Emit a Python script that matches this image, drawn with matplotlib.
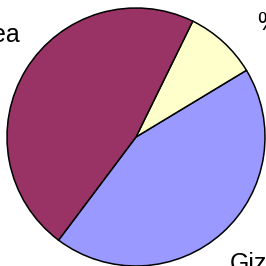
import matplotlib
matplotlib.use("Agg")
import matplotlib.pyplot as plt

# slice shares (percent), drawn counterclockwise from the lower-left boundary
labels = ["Giza", "Other", "Area"]
shares = [43.9, 9.1, 47.0]
colors = ["#9999FF", "#FFFFCC", "#993366"]

plt.rcParams["font.family"] = ["Liberation Sans", "DejaVu Sans"]

fig = plt.figure(figsize=(2.66, 2.66), dpi=100)
ax = fig.add_axes([0, 0, 1, 1])

ax.pie(shares, colors=colors, startangle=-126.9, counterclock=True,
       center=(136, 129), radius=129,
       wedgeprops=dict(edgecolor="black", linewidth=1.1))

ax.set_xlim(0, 266)
ax.set_ylim(0, 266)
ax.set_aspect("equal")
ax.axis("off")

# labels sit partly outside the cropped view
ax.text(20.5, 224, "Area", fontsize=18, ha="right", va="baseline")
ax.text(230, -5, "Giza", fontsize=18, ha="left", va="baseline")
ax.text(257, 236, "%", fontsize=18, ha="left", va="baseline")

fig.savefig("out.png", dpi=100)
